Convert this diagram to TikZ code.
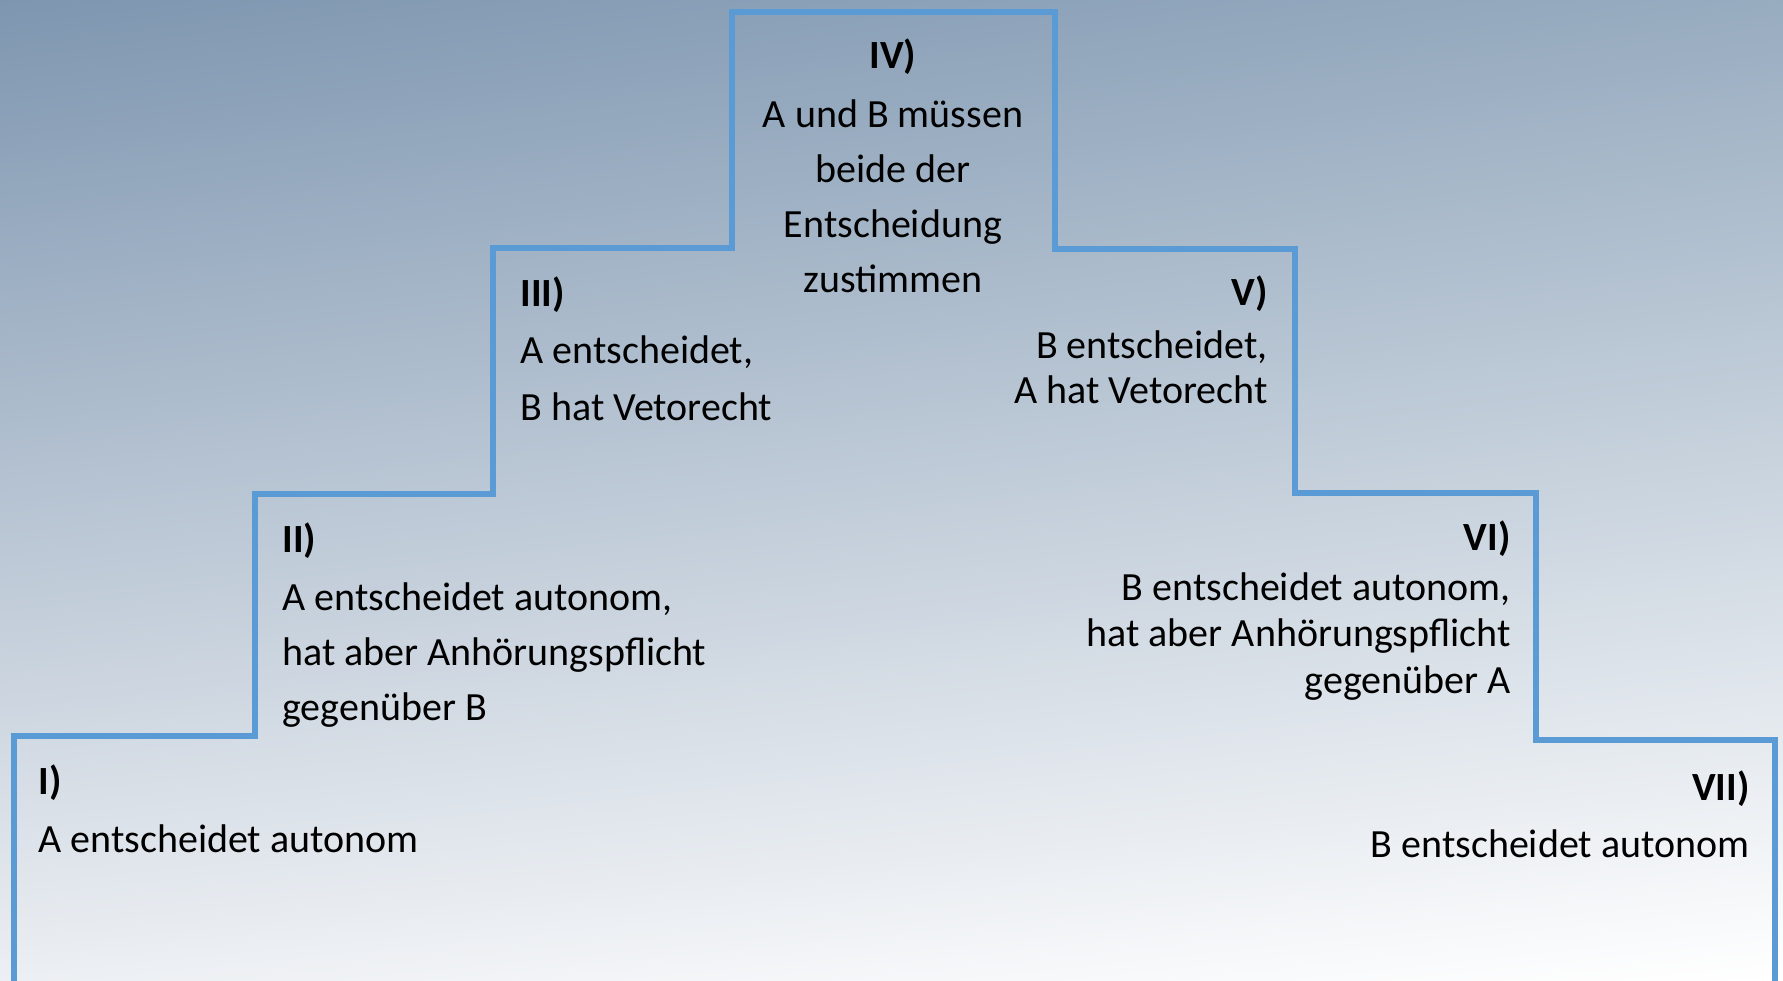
\documentclass[tikz,border=0pt]{standalone}
\usepackage{fontspec}
\setmainfont{Carlito}
\usetikzlibrary{shadings}

\definecolor{stairblue}{RGB}{91,155,213}
\definecolor{bgtl}{RGB}{126,150,176}
\definecolor{bgtr}{RGB}{152,172,192}
\definecolor{bgbl}{RGB}{236,239,243}

\tikzset{
  stairline/.style={draw=stairblue, line width=2.8pt, line join=miter},
  levelhead/.style={inner sep=0pt, font=\bfseries\fontsize{20}{24}\selectfont},
  leveltext/.style={inner sep=0pt, font=\fontsize{20}{#1}\selectfont},
  leveltext/.default=27.5
}

\begin{document}
\begin{tikzpicture}[x=0.5pt,y=-0.5pt]
\useasboundingbox (0,0) rectangle (1783,980);

%Background
\shade[upper left=bgtl, upper right=bgtr, lower left=bgbl, lower right=white] (0,0) rectangle (1783,980);

%Stairs
\begin{scope}
\clip (0,0) rectangle (1783,980);
\draw[stairline] (14,990) -- (14,736) -- (255,736) -- (255,494) -- (493,494) -- (493,248) -- (732,248) -- (732,12) -- (1055,12) -- (1055,249) -- (1295,249) -- (1295,493) -- (1536,493) -- (1536,740) -- (1775,740) -- (1775,990);
\end{scope}

% Level I
\node[levelhead, anchor=base west] (h1) at (38,794) {I)};
\node[leveltext, anchor=base west, align=left] (t1) at (38,852) {A entscheidet autonom};
% Level II (base = last line)
\node[levelhead, anchor=base west] (h2) at (282,552) {II)};
\node[leveltext=27.5, anchor=base west, align=left] (t2) at (282,720) {A entscheidet autonom,\\hat aber Anhörungspflicht\\gegenüber B};
% Level III
\node[levelhead, anchor=base west] (h3) at (520,306) {III)};
\node[leveltext=28.5, anchor=base west, align=left] (t3) at (520,420) {A entscheidet,\\B hat Vetorecht};
% Level IV
\node[levelhead, anchor=base] (h4) at (893,68) {IV)};
\node[leveltext=27.5, anchor=base, align=center] (t4) at (893,292) {A und B müssen\\beide der\\Entscheidung\\zustimmen};
% Level V
\node[levelhead, anchor=base east] (h5) at (1268,305) {V)};
\node[leveltext=22.5, anchor=base east, align=right] (t5) at (1268,403) {B entscheidet,\\A hat Vetorecht};
% Level VI
\node[levelhead, anchor=base east] (h6) at (1511,550) {VI)};
\node[leveltext=23.2, anchor=base east, align=right] (t6) at (1511,693) {B entscheidet autonom,\\hat aber Anhörungspflicht\\gegenüber A};
% Level VII
\node[levelhead, anchor=base east] (h7) at (1750,800) {VII)};
\node[leveltext, anchor=base east, align=right] (t7) at (1750,857) {B entscheidet autonom};

\end{tikzpicture}
\end{document}
